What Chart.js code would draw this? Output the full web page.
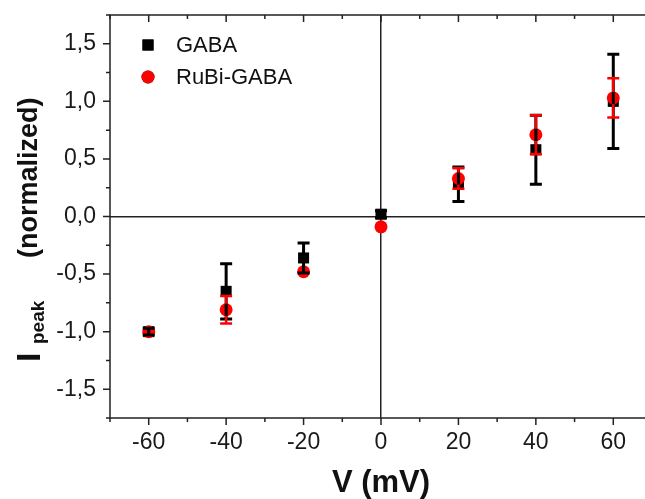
<!DOCTYPE html>
<html>
<head>
<meta charset="utf-8">
<script src="https://cdn.jsdelivr.net/npm/chart.js@4.4.0/dist/chart.umd.min.js"></script>
<style>
  html, body { margin: 0; padding: 0; background: #fff; overflow: hidden; }
  canvas { display: block; }
</style>
</head>
<body>
<canvas id="ivChart" width="660" height="499"></canvas>
<script>
// holding voltages (mV)
const voltages = [-60, -40, -20, 0, 20, 40, 60];
// normalized peak currents and their error bars
const gabaValues = [-1.0, -0.65, -0.36, 0.02, 0.28, 0.58, 1.0];
const gabaErrors = [0.03, 0.24, 0.13, 0.03, 0.15, 0.30, 0.41];
const rubiValues = [-1.0, -0.81, -0.48, -0.09, 0.33, 0.71, 1.03];
const rubiErrors = [0.02, 0.12, 0.04, 0.02, 0.09, 0.17, 0.17];
const seriesNames = ['GABA', 'RuBi-GABA'];
const xTickLabels = ['-60', '-40', '-20', '0', '20', '40', '60'];
const yTickLabels = ['-1,5', '-1,0', '-0,5', '0,0', '0,5', '1,0', '1,5'];

const FONT = '"Liberation Sans", Arial, sans-serif';

function toPoints(values) {
  return voltages.map((v, i) => ({ x: v, y: values[i] }));
}

// error bars, drawn on top of the markers like Origin does
const errorBars = {
  id: 'errorBars',
  afterDatasetsDraw(chart) {
    const ctx = chart.ctx;
    const yScale = chart.scales.y;
    chart.data.datasets.forEach((ds, i) => {
      const meta = chart.getDatasetMeta(i);
      ctx.save();
      ctx.strokeStyle = ds.errColor;
      ctx.lineWidth = ds.errWidth;
      meta.data.forEach((pt, j) => {
        const v = ds.data[j].y;
        const e = ds.errors[j];
        const top = yScale.getPixelForValue(v + e);
        const bot = yScale.getPixelForValue(v - e);
        const gap = ds.errGap;
        if (pt.y - top <= gap) return;
        ctx.beginPath();
        ctx.moveTo(pt.x, top);
        ctx.lineTo(pt.x, pt.y - gap);
        ctx.moveTo(pt.x, pt.y + gap);
        ctx.lineTo(pt.x, bot);
        ctx.moveTo(pt.x - 6, top);
        ctx.lineTo(pt.x + 6, top);
        ctx.moveTo(pt.x - 6, bot);
        ctx.lineTo(pt.x + 6, bot);
        ctx.stroke();
      });
      ctx.restore();
    });
  }
};

// box frame with minor/major ticks on all four sides
const frameTicks = {
  id: 'frameTicks',
  beforeDatasetsDraw(chart) {
    const { ctx, chartArea: a, scales: { x, y } } = chart;
    ctx.save();
    ctx.strokeStyle = '#222';
    ctx.lineWidth = 1.5;
    ctx.strokeRect(a.left, a.top, a.right - a.left, a.bottom - a.top);
    ctx.beginPath();
    x.ticks.forEach(t => {
      const px = x.getPixelForValue(t.value);
      const len = t.value % 20 === 0 ? 7 : 4;
      ctx.moveTo(px, a.bottom);
      ctx.lineTo(px, a.bottom + len);
      ctx.moveTo(px, a.top);
      ctx.lineTo(px, a.top + len);
    });
    y.ticks.forEach(t => {
      const py = y.getPixelForValue(t.value);
      const major = Math.abs(t.value * 2 - Math.round(t.value * 2)) < 1e-6;
      const len = major ? 7 : 4;
      ctx.moveTo(a.left, py);
      ctx.lineTo(a.left - len, py);
      ctx.moveTo(a.right, py);
      ctx.lineTo(a.right - len, py);
    });
    ctx.stroke();
    ctx.restore();
  }
};

// legend in the upper left corner of the plot
const cornerLegend = {
  id: 'cornerLegend',
  afterDraw(chart) {
    const ctx = chart.ctx;
    ctx.save();
    ctx.font = '22px ' + FONT;
    ctx.textBaseline = 'middle';
    ctx.fillStyle = '#111';
    chart.data.datasets.forEach((ds, i) => {
      const cy = 45 + i * 32;
      Chart.helpers.drawPoint(ctx, {
        pointStyle: ds.pointStyle,
        radius: ds.pointRadius,
        borderWidth: 0
      }, 148, cy);
      ctx.fillStyle = ds.backgroundColor;
      ctx.fill();
      ctx.fillStyle = '#111';
      ctx.fillText(seriesNames[i], 176, cy + 1);
    });
    ctx.restore();
  }
};

// rotated y title with the "peak" subscript
const yTitle = {
  id: 'yTitle',
  afterDraw(chart) {
    const ctx = chart.ctx;
    ctx.save();
    ctx.translate(0, 362);
    ctx.rotate(-Math.PI / 2);
    ctx.fillStyle = '#111';
    ctx.textBaseline = 'alphabetic';
    ctx.font = 'bold 34px ' + FONT;
    ctx.fillText('I', 0, 40);
    ctx.font = 'bold 19px ' + FONT;
    ctx.fillText('peak', 18, 44);
    ctx.font = 'bold 27px ' + FONT;
    ctx.fillText('(normalized)', 104, 37);
    ctx.restore();
  }
};

const ctx = document.getElementById('ivChart').getContext('2d');
new Chart(ctx, {
  type: 'scatter',
  data: {
    datasets: [{
      label: seriesNames[0],
      data: toPoints(gabaValues),
      errors: gabaErrors,
      pointStyle: 'rect',
      pointRadius: 7.8,
      pointHoverRadius: 7.8,
      backgroundColor: '#000000',
      borderWidth: 0,
      errColor: '#000000',
      errWidth: 3,
      errGap: 0,
      order: 2
    }, {
      label: seriesNames[1],
      data: toPoints(rubiValues),
      errors: rubiErrors,
      pointStyle: 'circle',
      pointRadius: 6.5,
      pointHoverRadius: 6.5,
      backgroundColor: '#ff0000',
      borderWidth: 0,
      errColor: '#ff0000',
      errWidth: 2.5,
      errGap: 6,
      order: 1
    }]
  },
  options: {
    responsive: false,
    animation: false,
    devicePixelRatio: 1,
    layout: { padding: { top: 15, right: 8, left: 0, bottom: 0 } },
    plugins: {
      legend: { display: false },
      tooltip: { enabled: false }
    },
    scales: {
      x: {
        type: 'linear',
        min: -70,
        max: 70,
        afterFit(scale) {
          scale.height = 81;
          scale.paddingLeft = 0;
          scale.paddingRight = 0;
        },
        border: { display: false },
        grid: {
          drawTicks: false,
          lineWidth: 1.5,
          color: c => (c.tick && c.tick.value === 0 ? '#222' : 'rgba(0,0,0,0)')
        },
        ticks: {
          stepSize: 10,
          padding: 11,
          color: '#1a1a1a',
          font: { family: FONT, size: 23 },
          maxRotation: 0,
          autoSkip: false,
          callback: v => (xTickLabels.includes(String(v)) ? String(v) : '')
        },
        title: {
          display: true,
          text: 'V (mV)',
          color: '#111',
          padding: 0,
          font: { family: FONT, size: 31, weight: 'bold', lineHeight: 1.0 }
        }
      },
      y: {
        type: 'linear',
        min: -1.75,
        max: 1.75,
        afterFit(scale) {
          scale.width = 110;
          scale.paddingTop = 0;
          scale.paddingBottom = 0;
        },
        border: { display: false },
        grid: {
          drawTicks: false,
          lineWidth: 1.5,
          color: c => (c.tick && c.tick.value === 0 ? '#222' : 'rgba(0,0,0,0)')
        },
        ticks: {
          stepSize: 0.25,
          padding: 14,
          color: '#1a1a1a',
          font: { family: FONT, size: 23 },
          autoSkip: false,
          callback: v => {
            const s = v.toFixed(1).replace('.', ',');
            const major = Math.abs(v * 2 - Math.round(v * 2)) < 1e-6;
            return major && yTickLabels.includes(s) ? s : '';
          }
        }
      }
    }
  },
  plugins: [frameTicks, errorBars, cornerLegend, yTitle]
});
</script>
</body>
</html>
